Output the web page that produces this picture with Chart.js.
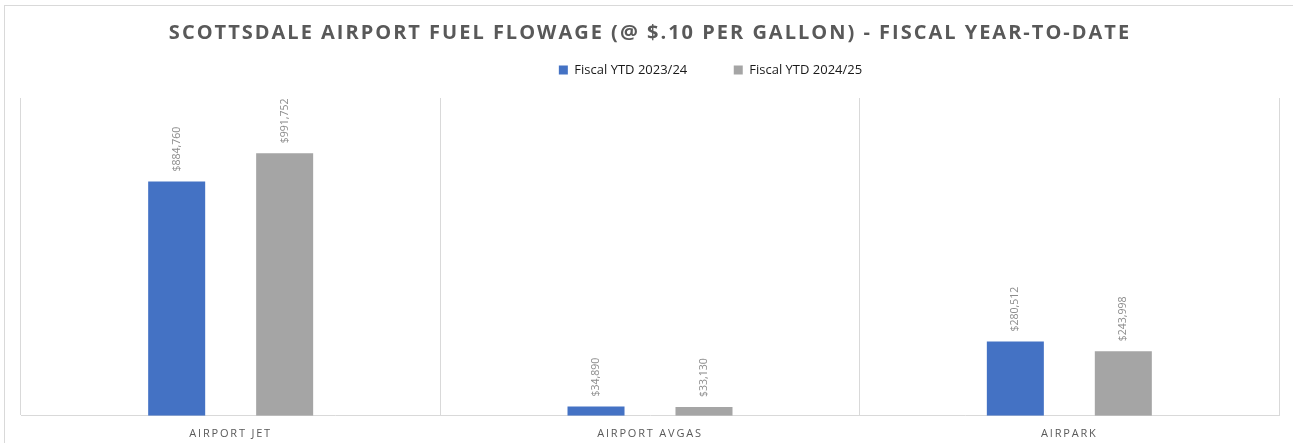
<!DOCTYPE html>
<html>
<head>
<meta charset="utf-8">
<script src="https://cdn.jsdelivr.net/npm/chart.js@4/dist/chart.umd.min.js"></script>
<style>
  html, body { margin: 0; padding: 0; background: #fff; overflow: hidden; }
  #wrap { position: relative; width: 1293px; height: 443px; }
  #frame { position: absolute; left: 4px; top: 5px; width: 1400px; height: 600px;
           border-top: 1px solid #d9d9d9; border-left: 1px solid #d9d9d9; }
  #myChart { position: absolute; left: 0; top: 0; }
</style>
</head>
<body>
<div id="wrap">
  <div id="frame"></div>
  <canvas id="myChart" width="1293" height="443"></canvas>
</div>
<script>
// chart data
var categories = ["AIRPORT JET", "AIRPORT AVGAS", "AIRPARK"];
var seriesNames = ["Fiscal YTD 2023/24", "Fiscal YTD 2024/25"];
var ytd2324 = [884760, 34890, 280512];
var ytd2425 = [991752, 33130, 243998];
var yMax = 1200000;

var chartTitle = "SCOTTSDALE AIRPORT FUEL FLOWAGE (@ $.10 PER GALLON) - FISCAL YEAR-TO-DATE";

function money(v) {
    return "$" + v.toLocaleString("en-US");
}

// wrap a draw method: letter spacing and/or offset
function tweak(obj, name, sp, dx, dy) {
    if (!obj || obj["_tw_" + name]) return;
    var orig = obj[name];
    obj["_tw_" + name] = true;
    obj[name] = function () {
        var ctx = this.ctx;
        ctx.save();
        ctx.letterSpacing = sp;
        ctx.translate(dx, dy);
        orig.apply(this, arguments);
        ctx.restore();
    };
}

var tweakPlugin = {
    id: "tweak",
    beforeDraw: function (chart) {
        tweak(chart.titleBlock, "draw", "2px", 0, 0);
        tweak(chart.scales.x, "drawLabels", "1.8px", 0, 0);
        // legend sits a bit right of centre and higher than its box
        tweak(chart.legend, "draw", "0px", 60.5, -11.5);
    }
};

// rotated value labels above the bars
var valueLabels = {
    id: "valueLabels",
    afterDatasetsDraw: function (chart) {
        var ctx = chart.ctx;
        ctx.save();
        ctx.font = "10.5px 'Open Sans'";
        ctx.fillStyle = "#8c8c8c";
        ctx.textAlign = "left";
        ctx.textBaseline = "middle";
        chart.data.datasets.forEach(function (ds, di) {
            var meta = chart.getDatasetMeta(di);
            meta.data.forEach(function (bar, i) {
                ctx.save();
                ctx.translate(bar.x, bar.y - 10);
                ctx.rotate(-Math.PI / 2);
                ctx.fillText(money(ds.data[i]), 0, 0);
                ctx.restore();
            });
        });
        ctx.restore();
    }
};

var canvas = document.getElementById("myChart");
var ctx = canvas.getContext("2d");

var myChart = new Chart(ctx, {
    type: "bar",
    data: {
        labels: categories,
        datasets: [{
            label: seriesNames[0],
            data: ytd2324,
            backgroundColor: "#4472c4",
            categoryPercentage: 0.515,
            barPercentage: 0.528
        }, {
            label: seriesNames[1],
            data: ytd2425,
            backgroundColor: "#a5a5a5",
            categoryPercentage: 0.515,
            barPercentage: 0.528
        }]
    },
    options: {
        responsive: false,
        animation: false,
        events: [],
        layout: { padding: { left: 21, right: 14, top: 0, bottom: -8 } },
        plugins: {
            title: {
                display: true,
                text: chartTitle,
                color: "#595959",
                font: { family: "'Open Sans'", size: 20, weight: "bold", lineHeight: 0.9 },
                padding: { top: 24, bottom: 0 }
            },
            legend: {
                position: "top",
                labels: {
                    boxWidth: 9,
                    boxHeight: 9,
                    padding: 33,
                    color: "#1a1a1a",
                    font: { family: "'Open Sans'", size: 13 },
                    generateLabels: function (chart) {
                        var items = Chart.defaults.plugins.legend.labels.generateLabels(chart);
                        items[0].text = items[0].text + "    ";
                        return items;
                    }
                }
            },
            tooltip: { enabled: false }
        },
        scales: {
            x: {
                grid: { color: "#d9d9d9", offset: true, drawTicks: false },
                border: { color: "#d9d9d9" },
                ticks: {
                    color: "#595959",
                    padding: 11,
                    font: { family: "'Open Sans'", size: 11 }
                }
            },
            y: {
                display: false,
                min: 0,
                max: yMax
            }
        }
    },
    plugins: [tweakPlugin, valueLabels]
});
</script>
</body>
</html>
